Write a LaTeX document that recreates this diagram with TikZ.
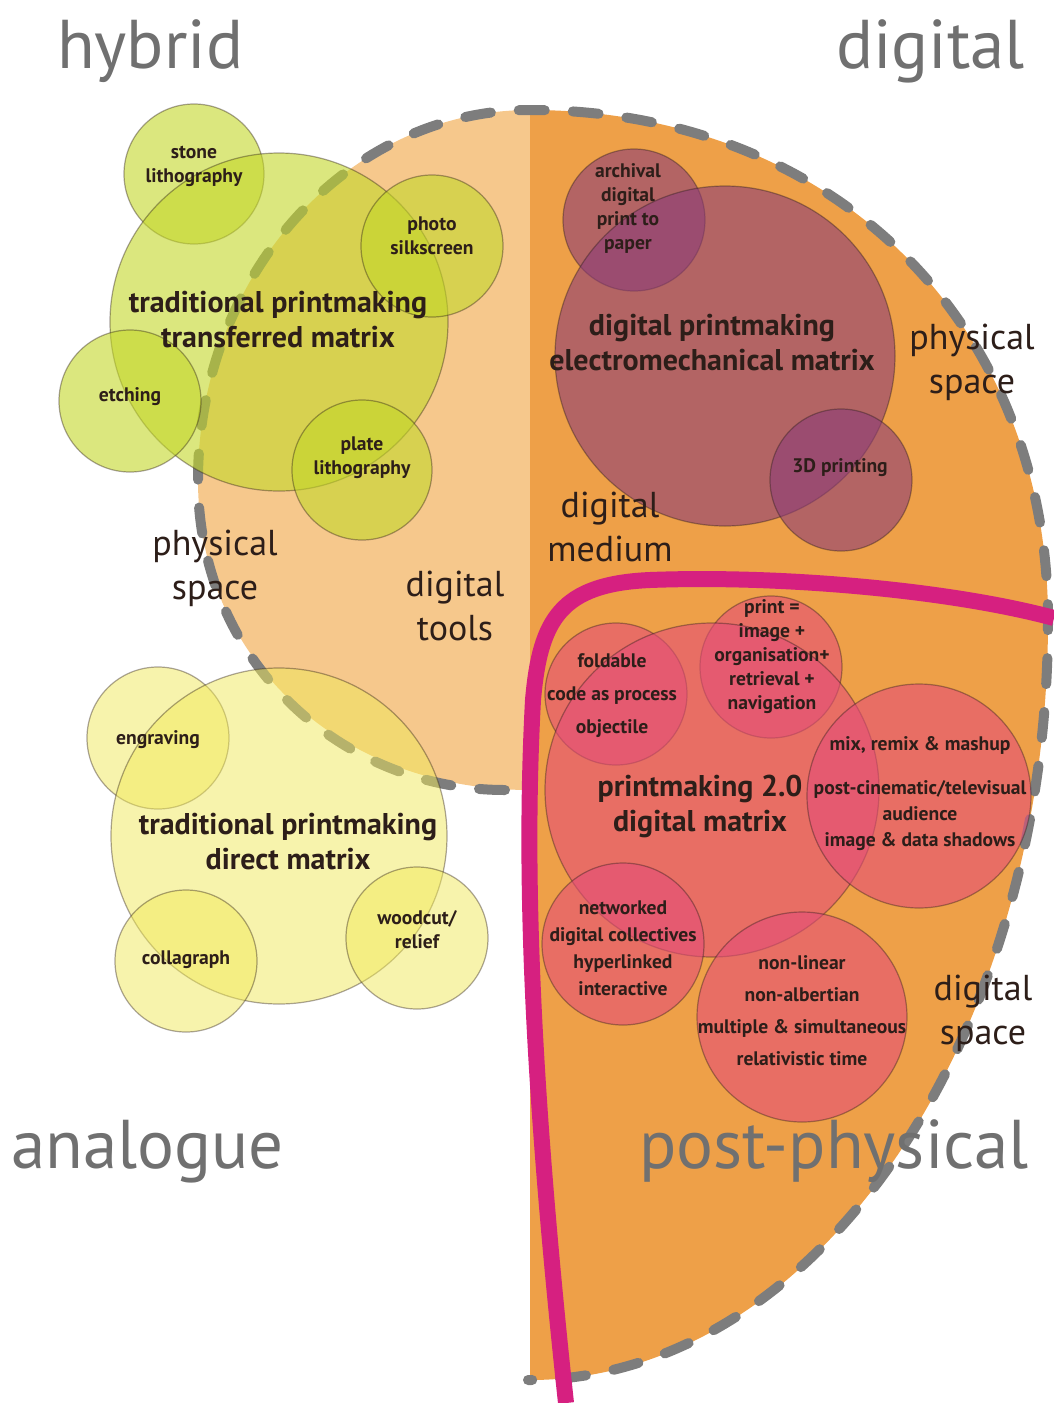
\documentclass[tikz,border=0pt]{standalone}
\usepackage{fontspec}
\setmainfont{PT Sans}
\usepackage{xcolor}
\usetikzlibrary{calc}

\definecolor{peach}{RGB}{246,200,140}
\definecolor{ochre}{RGB}{238,160,72}
\definecolor{rim}{RGB}{125,125,125}
\definecolor{magentaline}{RGB}{214,32,128}
\definecolor{greenblob}{RGB}{195,215,40}
\definecolor{yellowblob}{RGB}{240,232,90}
\definecolor{plumblob}{RGB}{140,60,120}
\definecolor{pinkblob}{RGB}{228,77,120}
\definecolor{cornergray}{RGB}{112,112,112}
\definecolor{ink}{RGB}{45,30,25}

\begin{document}
\begin{tikzpicture}[x=0.5pt, y=-0.5pt,
	blob/.style={circle, draw=ink, draw opacity=0.4, line width=0.6pt, fill opacity=0.6, inner sep=0pt},
	corner/.style={font=\fontsize{34.5}{40}\selectfont, text=cornergray},
	zone/.style={font=\fontsize{18}{22}\selectfont, text=ink, align=center},
	title/.style={font=\bfseries\fontsize{15}{17.5}\selectfont, text=ink, align=center},
	item/.style={font=\bfseries\fontsize{9.8}{12}\selectfont, text=ink, align=center}]
	\useasboundingbox (0,0) rectangle (1054,1403);

	\fill[peach] (530,110) .. controls (347,110) and (198,276) .. (198,480) .. controls (198,660) and (340,790) .. (530,790) -- cycle;
	\fill[ochre] (530,110) .. controls (830,110) and (1048,320) .. (1048,620) .. controls (1048,1040) and (815,1380) .. (530,1380) -- cycle;
	\draw[rim, line width=5pt, line cap=round, dash pattern=on 13pt off 14pt] (505,790) .. controls (340,790) and (198,660) .. (198,480) .. controls (198,276) and (347,110) .. (530,110) .. controls (830,110) and (1048,320) .. (1048,620) .. controls (1048,1040) and (815,1380) .. (528,1380);

	\node[blob, fill=greenblob, minimum size=70pt] (stone) at (194,174) {};
	\node[blob, fill=greenblob, minimum size=169pt] (transfer) at (279,322) {};
	\node[blob, fill=greenblob, minimum size=71pt] (photo) at (432,246) {};
	\node[blob, fill=greenblob, minimum size=71pt] (etching) at (130,401) {};
	\node[blob, fill=greenblob, minimum size=70pt] (plate) at (362,470) {};

	\node[blob, fill=yellowblob, fill opacity=0.5, minimum size=71pt] (engraving) at (158,738) {};
	\node[blob, fill=yellowblob, fill opacity=0.5, minimum size=168pt] (direct) at (279,836) {};
	\node[blob, fill=yellowblob, fill opacity=0.5, minimum size=71pt] (collagraph) at (186,961) {};
	\node[blob, fill=yellowblob, fill opacity=0.5, minimum size=71pt] (woodcut) at (417,938) {};

	\node[blob, fill=plumblob, minimum size=71pt] (archival) at (634,220) {};
	\node[blob, fill=plumblob, minimum size=170pt] (electro) at (725,356) {};
	\node[blob, fill=plumblob, minimum size=71pt] (threed) at (841,480) {};

	\node[blob, fill=pinkblob, minimum size=71pt] (foldable) at (616,694) {};
	\node[blob, fill=pinkblob, minimum size=71pt] (printeq) at (771,667) {};
	\node[blob, fill=pinkblob, minimum size=167pt] (twozero) at (712,790) {};
	\node[blob, fill=pinkblob, minimum size=112pt] (mix) at (919,796) {};
	\node[blob, fill=pinkblob, minimum size=81pt] (networked) at (623,944) {};
	\node[blob, fill=pinkblob, minimum size=105pt] (nonlinear) at (802,1017) {};

	\draw[magentaline, line width=8pt] (1054,618) .. controls (950,590) and (780,575) .. (650,580) .. controls (560,584) and (540,620) .. (533,700) .. controls (525,850) and (528,1050) .. (566,1403);

	\node[item] (stonetxt) at (194,166) {stone\\lithography};
	\node[title] (transfertxt) at (278,320) {traditional printmaking\\transferred matrix};
	\node[item] (phototxt) at (432,236) {photo\\silkscreen};
	\node[item] (etchingtxt) at (130,397) {etching};
	\node[item] (platetxt) at (362,458) {plate\\lithography};

	\node[item] (engravingtxt) at (158,740) {engraving};
	\node[title] (directtxt) at (288,842) {traditional printmaking\\direct matrix};
	\node[item] (collagraphtxt) at (186,960) {collagraph};
	\node[item] (woodcuttxt) at (417,930) {woodcut/\\relief};

	\node[item] (archivaltxt) at (628,208) {archival\\digital\\print to\\paper};
	\node[title] (electrotxt) at (712,343) {digital printmaking\\electromechanical matrix};
	\node[item] (threedtxt) at (840,468) {3D printing};

	\node[item, font=\bfseries\fontsize{9.8}{16.5}\selectfont] (foldabletxt) at (612,696) {foldable\\code as process\\objectile};
	\node[item] (printeqtxt) at (772,657) {print =\\image +\\organisation+\\retrieval +\\navigation};
	\node[title] (twozerotxt) at (700,806) {printmaking 2.0\\digital matrix};
	\node[item, font=\bfseries\fontsize{9.8}{13}\selectfont] (mixtxt) at (920,794) {mix, remix \& mashup\\[9pt]post-cinematic/televisual\\audience\\image \& data shadows};
	\node[item, font=\bfseries\fontsize{9.8}{13.5}\selectfont] (networkedtxt) at (623,948) {networked\\digital collectives\\hyperlinked\\interactive};
	\node[item, font=\bfseries\fontsize{9.8}{16}\selectfont] (nonlineartxt) at (802,1011) {non-linear\\non-albertian\\multiple \& simultaneous\\relativistic time};

	\node[zone] (physright) at (972,362) {physical\\space};
	\node[zone] (physleft) at (215,568) {physical\\space};
	\node[zone] (tools) at (455,606) {digital\\tools};
	\node[zone] (medium) at (610,527) {digital\\medium};
	\node[zone] (dspace) at (983,1013) {digital\\space};

	\node[corner, anchor=base west] (hybrid) at (50,68) {hybrid};
	\node[corner, anchor=base east] (digital) at (1032,68) {digital};
	\node[corner, anchor=base west] (analogue) at (4,1168) {analogue};
	\node[corner, anchor=base east] (postphys) at (1036,1168) {post-physical};
\end{tikzpicture}
\end{document}
